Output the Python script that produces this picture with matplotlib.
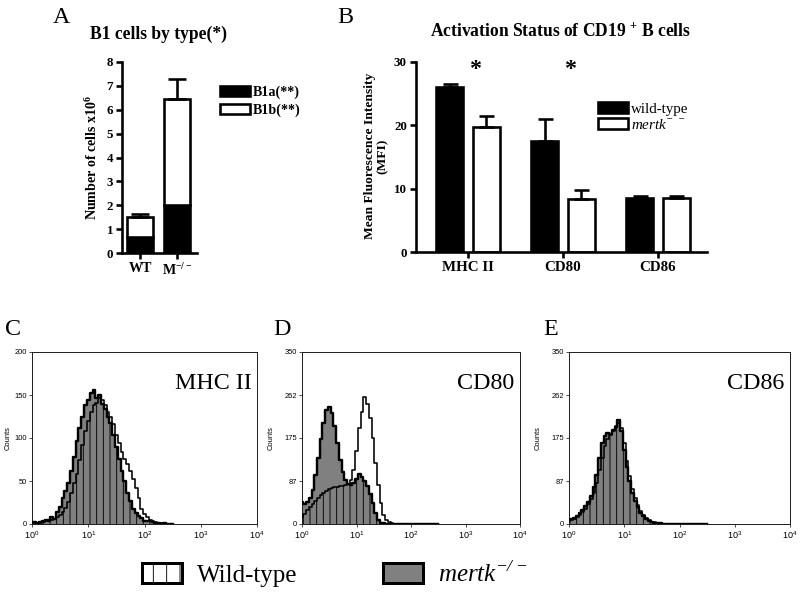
import numpy as np
import matplotlib
matplotlib.use('Agg')
import matplotlib.pyplot as plt
from matplotlib.patches import Patch
from matplotlib.ticker import FixedLocator, NullLocator, LogFormatterSciNotation

# ------------------------------------------------------------------ data
# Panel A: B1 cells by type (x10^6)
a_groups = ['WT', r'$\mathdefault{M^{-/-}}$']
a_b1a = [0.65, 2.0]
a_b1b = [0.85, 4.45]
a_err = [0.12, 0.82]
a_yticks = [0, 1, 2, 3, 4, 5, 6, 7, 8]

# Panel B: MFI of CD19+ B cells
b_markers = ['MHC II', 'CD80', 'CD86']
b_wt = [26.0, 17.5, 8.5]
b_wt_err = [0.5, 3.5, 0.3]
b_ko = [19.8, 8.3, 8.5]
b_ko_err = [1.7, 1.5, 0.3]
b_sig = ['*', '*', '']
b_yticks = [0, 10, 20, 30]

# Panels C-E: flow histograms, counts per channel at log10 intensity bins
hist_log_bins = [round(0.05 * i, 2) for i in range(51)]
c_ko = [2, 2, 1, 2, 3, 5, 4, 8, 6, 14, 20, 30, 38, 48, 62, 78, 96, 112, 125, 138,
        144, 152, 156, 147, 150, 140, 134, 124, 118, 104, 90, 76, 62, 50, 36, 27,
        18, 13, 9, 7, 4, 3, 3, 2, 1, 1, 0, 1, 0, 0, 0]
c_wt = [1, 1, 1, 1, 2, 3, 3, 5, 6, 8, 10, 14, 19, 26, 36, 48, 58, 74, 92, 108,
        120, 130, 138, 141, 146, 144, 138, 130, 124, 116, 104, 94, 84, 76, 70, 62,
        52, 42, 30, 18, 12, 8, 5, 3, 2, 1, 1, 0, 0, 0, 0]
d_ko = [45, 40, 44, 52, 70, 100, 135, 172, 205, 232, 238, 225, 200, 165, 130, 105,
        90, 82, 80, 84, 92, 102, 96, 88, 78, 62, 42, 22, 8, 3, 2, 1, 1, 0, 0, 0,
        0, 0, 0, 0, 0, 0, 0, 0, 0, 0, 0, 0, 0, 0, 0]
d_wt = [15, 20, 28, 34, 40, 46, 52, 58, 64, 68, 72, 74, 75, 76, 78, 78, 80, 82, 90,
        110, 148, 196, 228, 258, 244, 215, 175, 125, 80, 42, 18, 8, 4, 2, 1, 1, 0,
        0, 0, 0, 0, 0, 0, 0, 0, 0, 0, 0, 0, 0, 0]
e_ko = [8, 10, 12, 16, 22, 28, 36, 45, 56, 75, 100, 135, 165, 180, 186, 184, 192,
        198, 212, 190, 150, 115, 88, 64, 46, 34, 22, 16, 10, 7, 5, 3, 2, 2, 1, 1, 0,
        0, 0, 0, 0, 0, 0, 0, 0, 0, 0, 0, 0, 0, 0]
e_wt = [6, 8, 10, 14, 18, 24, 30, 40, 50, 64, 84, 110, 135, 158, 172, 182, 190,
        200, 205, 195, 165, 128, 98, 72, 52, 38, 26, 18, 12, 8, 5, 4, 3, 2, 1, 1, 0,
        0, 0, 0, 0, 0, 0, 0, 0, 0, 0, 0, 0, 0, 0]
hist_panels = [('C', 'MHC II', c_ko, c_wt, [0, 50, 100, 150, 200]),
               ('D', 'CD80', d_ko, d_wt, [0, 87, 175, 262, 350]),
               ('E', 'CD86', e_ko, e_wt, [0, 87, 175, 262, 350])]
hist_xticks = [1, 10, 100, 1000, 10000]

# ------------------------------------------------------------------ style
DPI = 80
W, H = 800, 595
SERIF = 'Liberation Serif'
SANS = 'Liberation Sans'
plt.rcParams['font.family'] = [SERIF, 'DejaVu Sans']
plt.rcParams['hatch.linewidth'] = 0.8


def pt(px):
    return px * 72.0 / DPI


def fx(x):
    return x / W


def fy(y):
    return 1 - y / H


def box(l, t, r, b):
    return [fx(l), fy(b), (r - l) / W, (b - t) / H]


fig = plt.figure(figsize=(W / DPI, H / DPI), dpi=DPI)

LW = pt(2.6)


def prism_axes(ax):
    for s in ['top', 'right']:
        ax.spines[s].set_visible(False)
    for s in ['left', 'bottom']:
        ax.spines[s].set_linewidth(LW)
    ax.tick_params(direction='out', length=pt(6), width=LW, pad=pt(3))


# ------------------------------------------------------------------ panel A
axA = fig.add_axes(box(122, 62, 197, 253))
xa = np.arange(len(a_groups))
axA.bar(xa, a_b1a, width=0.7, color='black', edgecolor='black', lw=LW,
        label='B1a(**)', zorder=2)
axA.bar(xa, a_b1b, bottom=a_b1a, width=0.7, color='white', edgecolor='black',
        lw=LW, label='B1b(**)', zorder=2)
tot = np.add(a_b1a, a_b1b)
axA.errorbar(xa, tot, yerr=[np.zeros(len(xa)), a_err], fmt='none',
             ecolor='black', elinewidth=LW, capsize=pt(9), capthick=LW, zorder=3)
axA.set_xlim(-0.49, 1.54)
axA.set_ylim(0, 8)
prism_axes(axA)
axA.set_yticks(a_yticks, labels=[str(v) for v in a_yticks],
               fontsize=pt(13), fontweight='bold')
axA.set_xticks(xa, labels=a_groups, fontsize=pt(14), fontweight='bold')
axA.set_ylabel(r'Number of cells x10$^{\mathdefault{6}}$', fontsize=pt(14),
               fontweight='bold')
axA.yaxis.set_label_coords(-0.29, 0.5)
fig.text(fx(158), fy(34), 'B1 cells by type(*)', ha='center', va='center',
         fontsize=pt(17.5), fontweight='bold')
axA.legend(loc='upper left', bbox_to_anchor=(fx(220), fy(86)),
           bbox_transform=fig.transFigure, frameon=False,
           prop=dict(family=SERIF, weight='bold', size=pt(14)),
           handlelength=30 / 14, handleheight=10 / 14, handletextpad=3 / 14,
           labelspacing=0.3, borderpad=0, borderaxespad=0)

# ------------------------------------------------------------------ panel B
axB = fig.add_axes(box(416, 62, 707, 252))
xb = np.arange(len(b_markers))
off, bw = 0.19, 0.284
axB.bar(xb - off, b_wt, bw, color='black', edgecolor='black', lw=LW,
        label='wild-type', zorder=2)
axB.bar(xb + off, b_ko, bw, color='white', edgecolor='black', lw=LW,
        label=r'$\mathdefault{mertk}^{\mathdefault{-\ -}}$', zorder=2)
axB.errorbar(xb - off, b_wt, yerr=[np.zeros(len(xb)), b_wt_err], fmt='none',
             ecolor='black', elinewidth=LW, capsize=pt(7.5), capthick=LW, zorder=3)
axB.errorbar(xb + off, b_ko, yerr=[np.zeros(len(xb)), b_ko_err], fmt='none',
             ecolor='black', elinewidth=LW, capsize=pt(7.5), capthick=LW, zorder=3)
for i, s in enumerate(b_sig):
    if s:
        axB.text(xb[i] + 0.08, 28.8, s, ha='center', va='center',
                 fontsize=pt(24), fontweight='bold')
axB.set_xlim(-0.547, 2.516)
axB.set_ylim(0, 30)
prism_axes(axB)
axB.set_yticks(b_yticks, labels=[str(v) for v in b_yticks],
               fontsize=pt(13), fontweight='bold')
axB.set_xticks(xb, labels=b_markers, fontsize=pt(15), fontweight='bold')
axB.set_ylabel('Mean Fluorescence Intensity\n(MFI)', fontsize=pt(13.5),
               fontweight='bold', linespacing=1.15)
axB.yaxis.set_label_coords(-0.093, 0.505)
fig.text(fx(561), fy(32), r'Activation Status of CD19 $^{\mathdefault{+}}$ B cells',
         ha='center', va='center', fontsize=pt(17.5), fontweight='bold')
legB = axB.legend(loc='upper left', bbox_to_anchor=(fx(598), fy(102)),
                  bbox_transform=fig.transFigure, frameon=False,
                  prop=dict(family=SERIF, size=pt(15)),
                  handlelength=30 / 15, handleheight=11 / 15, handletextpad=3 / 15,
                  labelspacing=0.15, borderpad=0, borderaxespad=0)
legB.get_texts()[1].set_fontstyle('italic')

# ------------------------------------------------------------------ panels C-E
hist_boxes = [(32, 352, 257, 524), (302, 352, 520, 524), (569, 352, 790, 524)]
label_x = [5, 273, 543]
counts_x = [-20, -27, -27]
xvals = 10.0 ** np.array(hist_log_bins)
for (letter, name, ko, wt, yt), bx, lx, cx in zip(hist_panels, hist_boxes,
                                                  label_x, counts_x):
    ax = fig.add_axes(box(*bx))
    ax.set_xscale('log')
    ax.set_xlim(1, 10000)
    ax.set_ylim(0, yt[-1])
    poly = ax.fill_between(xvals, ko, step='mid', facecolor='#808080',
                           edgecolor='none', zorder=1)
    hat = ax.fill_between(xvals, wt, step='mid', facecolor='none',
                          edgecolor='black', hatch='||', linewidth=0, zorder=2)
    hat.set_clip_path(poly.get_paths()[0], poly.get_transform())
    ax.step(xvals, ko, where='mid', color='black', lw=pt(2.4), zorder=3)
    ax.step(xvals, wt, where='mid', color='black', lw=pt(1.6), zorder=3)
    for s in ax.spines.values():
        s.set_linewidth(pt(1.0))
        s.set_color('#222222')
    ax.xaxis.set_major_locator(FixedLocator(hist_xticks))
    ax.xaxis.set_major_formatter(LogFormatterSciNotation())
    ax.xaxis.set_minor_locator(NullLocator())
    ax.set_yticks(yt)
    ax.tick_params(direction='out', length=pt(3), width=pt(0.8), pad=pt(2),
                   color='#222222')
    ax.tick_params(axis='x', labelsize=pt(9))
    ax.tick_params(axis='y', labelsize=pt(7.5))
    for t in ax.get_xticklabels() + ax.get_yticklabels():
        t.set_family(SANS)
    ax.set_ylabel('Counts', fontsize=pt(7.5), family=SANS)
    w = bx[2] - bx[0]
    ax.yaxis.set_label_coords(cx / w, 0.5)
    ax.text(0.975, 0.785, name, transform=ax.transAxes, ha='right',
            va='baseline', fontsize=pt(24))
    fig.text(fx(lx), fy(335), letter, ha='left', va='baseline', fontsize=pt(24))

fig.text(fx(53), fy(23), 'A', ha='left', va='baseline', fontsize=pt(24))
fig.text(fx(337), fy(23), 'B', ha='left', va='baseline', fontsize=pt(24))

# ------------------------------------------------------------------ bottom legend
handles = [Patch(facecolor='white', edgecolor='black', hatch='|', lw=pt(3)),
           Patch(facecolor='#808080', edgecolor='black', lw=pt(3))]
legF = fig.legend(handles, ['Wild-type', r'$\mathdefault{mertk}^{\mathdefault{-/-}}$'],
                  loc='center left', bbox_to_anchor=(fx(142), fy(574)), ncol=2,
                  frameon=False, prop=dict(family=SERIF, size=pt(25)),
                  handlelength=40 / 25, handleheight=22 / 25, handletextpad=15 / 25,
                  columnspacing=85 / 25, borderpad=0, borderaxespad=0)
legF.get_texts()[1].set_fontstyle('italic')

fig.savefig('out.png', dpi=DPI)
